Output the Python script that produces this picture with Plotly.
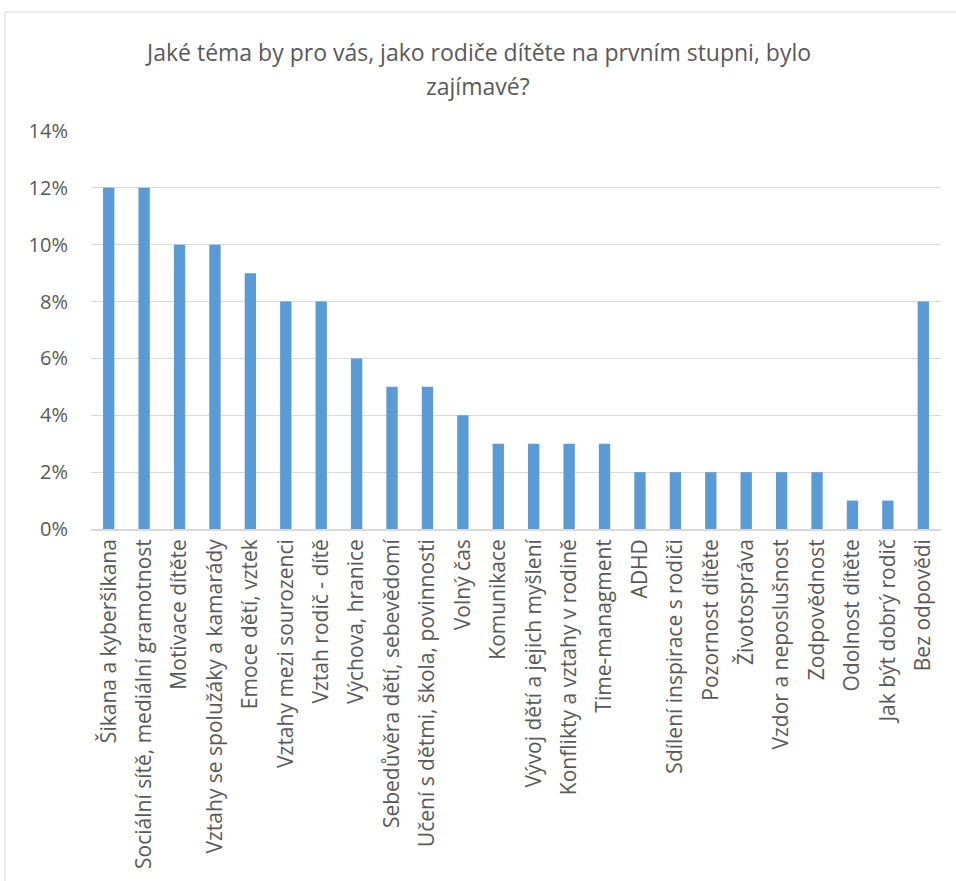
import plotly.graph_objects as go

categories = [
    "Šikana a kyberšikana",
    "Sociální sítě, mediální gramotnost",
    "Motivace dítěte",
    "Vztahy se spolužáky a kamarády",
    "Emoce dětí, vztek",
    "Vztahy mezi sourozenci",
    "Vztah rodič - dítě",
    "Výchova, hranice",
    "Sebedůvěra dětí, sebevědomí",
    "Učení s dětmi, škola, povinnosti",
    "Volný čas",
    "Komunikace",
    "Vývoj dětí a jejich myšlení",
    "Konflikty a vztahy v rodině",
    "Time-managment",
    "ADHD",
    "Sdílení inspirace s rodiči",
    "Pozornost dítěte",
    "Životospráva",
    "Vzdor a neposlušnost",
    "Zodpovědnost",
    "Odolnost dítěte",
    "Jak být dobrý rodič",
    "Bez odpovědi",
]
values = [0.12, 0.12, 0.10, 0.10, 0.09, 0.08, 0.08, 0.06, 0.05, 0.05, 0.04,
          0.03, 0.03, 0.03, 0.03, 0.02, 0.02, 0.02, 0.02, 0.02, 0.02, 0.01, 0.01, 0.08]
y_ticks = [0, 0.02, 0.04, 0.06, 0.08, 0.10, 0.12, 0.14]
y_tick_labels = ["0%", "2%", "4%", "6%", "8%", "10%", "12%", "14%"]

title_lines = ["Jaké téma by pro vás, jako rodiče dítěte na prvním stupni, bylo", "zajímavé?"]

FONT = "Open Sans"
GREY = "#595959"

fig = go.Figure(go.Bar(x=categories, y=values, marker=dict(color="#5b9bd5", line=dict(width=0))))

W, H = 956, 881
L, T = 91, 131
R = W - 941
B = H - 529
pw, ph = W - L - R, H - T - B

def px2x(px):
    return (px - L) / pw

def px2y(py):
    return (H - B - py) / ph

annotations = [
    dict(text=title_lines[0], xref="paper", yref="paper", x=px2x(478), y=px2y(52),
         xanchor="center", yanchor="middle", showarrow=False,
         font=dict(family=FONT, size=23, color=GREY)),
    dict(text=title_lines[1], xref="paper", yref="paper", x=px2x(478), y=px2y(86),
         xanchor="center", yanchor="middle", showarrow=False,
         font=dict(family=FONT, size=23, color=GREY)),
]

fig.update_layout(
    width=W, height=H,
    margin=dict(l=L, r=R, t=T, b=B, autoexpand=False),
    paper_bgcolor="white", plot_bgcolor="white",
    bargap=0.68,
    showlegend=False,
    annotations=annotations,
    font=dict(family=FONT, color=GREY),
    xaxis=dict(tickangle=-90, tickfont=dict(size=21, color=GREY, family=FONT),
               showline=True, linecolor="#d9d9d9", linewidth=1.5, ticks="",
               showgrid=False, fixedrange=True),
    yaxis=dict(range=[0, 0.14], tickvals=y_ticks, ticktext=y_tick_labels,
               tickfont=dict(size=20, color=GREY, family=FONT),
               ticklabelstandoff=22,
               showgrid=True, gridcolor="#d9d9d9", gridwidth=1,
               zeroline=False, showline=False, ticks="", ticklen=0,
               fixedrange=True),
    shapes=[dict(type="rect", xref="paper", yref="paper",
                 x0=px2x(5), x1=px2x(960), y0=px2y(895), y1=px2y(12),
                 line=dict(color="#d9d9d9", width=1), fillcolor="rgba(0,0,0,0)", layer="below")],
)

fig.write_html("out.html", config={"displayModeBar": False},
               post_script="document.body.style.margin='0';")
